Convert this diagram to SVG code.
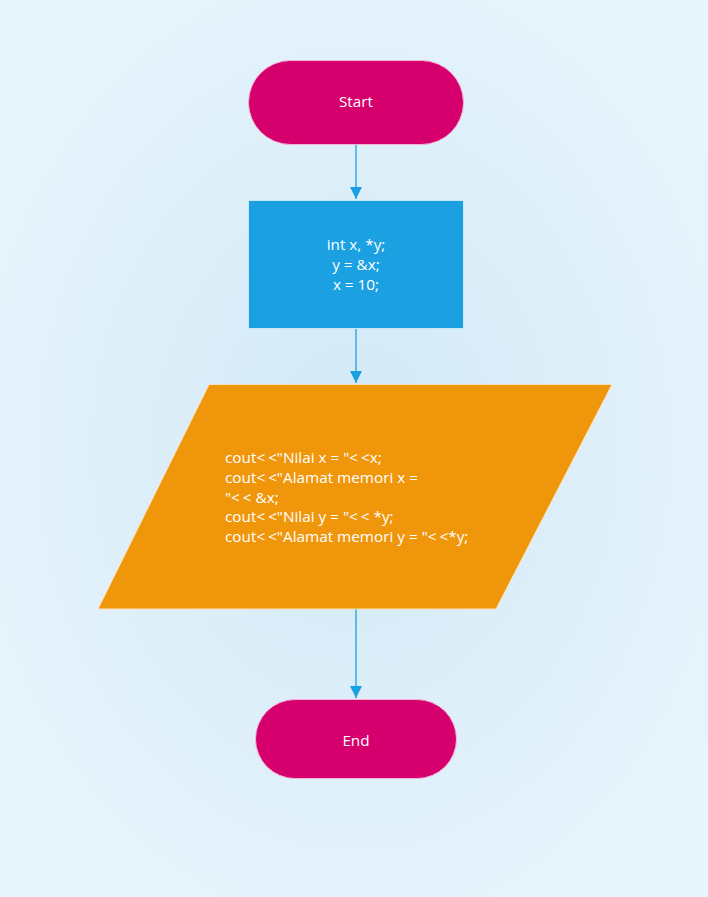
<svg xmlns="http://www.w3.org/2000/svg" width="708" height="897" viewBox="0 0 708 897">
<defs>
<radialGradient id="bg" cx="50%" cy="50%" r="60%">
<stop offset="0" stop-color="#d2e9f6"/>
<stop offset="1" stop-color="#e7f4fc"/>
</radialGradient>
<marker id="arr" markerWidth="12" markerHeight="12" refX="12" refY="6" orient="auto" markerUnits="userSpaceOnUse">
<path d="M0,0 L12,6 L0,12 Z" fill="#1ba1e2"/>
</marker>
<style>
.t{font-family:"Open Sans","Noto Sans",sans-serif;font-size:15.3px;fill:#ffffff;}
.term{fill:#d5006d;stroke:#f3b3d3;stroke-width:1;}
.proc{fill:#1ba1e2;stroke:#c8e8f8;stroke-width:1;}
.io{fill:#f0960b;stroke:#fbe3bb;stroke-width:1;}
.c{stroke:#1ba1e2;stroke-width:1.3;fill:none;marker-end:url(#arr);}
.lt{letter-spacing:3px;}
</style>
</defs>
<rect width="708" height="897" fill="url(#bg)"/>
<g id="connectors">
<line class="c" x1="356" y1="145" x2="356" y2="199"/>
<line class="c" x1="356" y1="328" x2="356" y2="383"/>
<line class="c" x1="356" y1="609" x2="356" y2="698"/>
</g>
<g id="start">
<rect class="term" x="248.5" y="60.5" width="215" height="84" rx="42" ry="42"/>
<text class="t" x="356" y="106.5" text-anchor="middle">Start</text>
</g>
<g id="decl">
<rect class="proc" x="248.5" y="200.5" width="215" height="128"/>
<text class="t" text-anchor="middle"><tspan x="356" y="249.5">int x, *y;</tspan><tspan x="356" y="269.5">y = &amp;x;</tspan><tspan x="356" y="289.5">x = 10;</tspan></text>
</g>
<g id="output">
<polygon class="io" points="209,384.5 612,384.5 496,609 98,609"/>
<text class="t"><tspan x="225" y="463">cout<tspan class="lt">&lt;</tspan>&lt;"Nilai x = "<tspan class="lt">&lt;</tspan>&lt;x;</tspan><tspan x="225" y="483">cout<tspan class="lt">&lt;</tspan>&lt;"Alamat memori x =</tspan><tspan x="225" y="502.5">"<tspan class="lt">&lt;</tspan>&lt; &amp;x;</tspan><tspan x="225" y="522">cout<tspan class="lt">&lt;</tspan>&lt;"Nilai y = "<tspan class="lt">&lt;</tspan>&lt; *y;</tspan><tspan x="225" y="542">cout<tspan class="lt">&lt;</tspan>&lt;"Alamat memori y = "<tspan class="lt">&lt;</tspan>&lt;*y;</tspan></text>
</g>
<g id="end">
<rect class="term" x="255.5" y="699.5" width="201" height="79" rx="39.5" ry="39.5"/>
<text class="t" x="356" y="745.5" text-anchor="middle">End</text>
</g>
</svg>
